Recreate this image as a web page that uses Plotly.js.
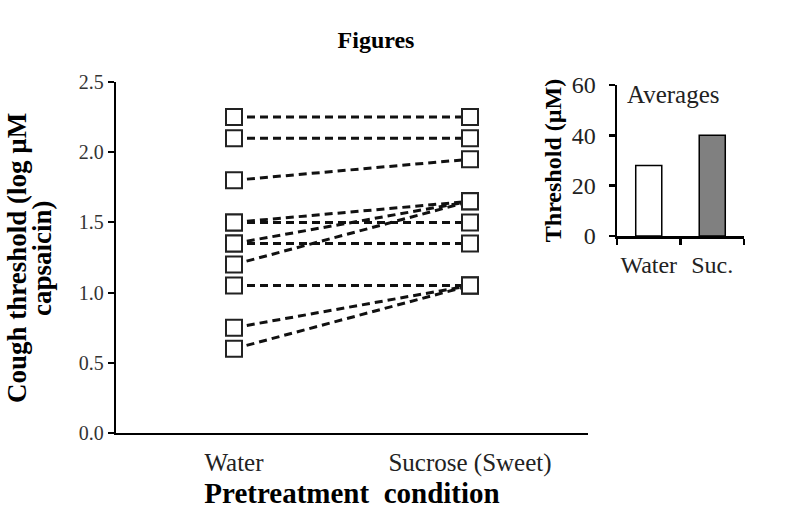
<!DOCTYPE html>
<html>
<head>
<meta charset="utf-8">
<script src="https://cdn.plot.ly/plotly-3.0.1.min.js"></script>
<style>html,body{margin:0;padding:0;background:#fff;}#chart{width:800px;height:510px;}</style>
</head>
<body>
<div id="chart"></div>
<script>
// Data
const conditions = ['Water', 'Sucrose (Sweet)'];
const waterThreshold = [2.25, 2.1, 1.8, 1.5, 1.5, 1.35, 1.35, 1.2, 1.05, 0.75, 0.6];
const sucroseThreshold = [2.25, 2.1, 1.95, 1.65, 1.5, 1.65, 1.35, 1.65, 1.05, 1.05, 1.05];
const avgCategories = ['Water', 'Suc.'];
const avgValues = [28, 40];
const avgColors = ['#ffffff', '#808080'];

const serif = 'Liberation Serif, Times New Roman, serif';
const traces = [];
// dashed lines, one per subject
for (let i = 0; i < waterThreshold.length; i++) {
  traces.push({
    type: 'scatter', mode: 'lines',
    x: conditions, y: [waterThreshold[i], sucroseThreshold[i]],
    xaxis: 'x', yaxis: 'y',
    line: {color: '#111', width: 3, dash: '8px,5px'},
    showlegend: false, hoverinfo: 'skip'
  });
}
// square markers on top of all lines
const markerX = [], markerY = [];
for (let i = 0; i < waterThreshold.length; i++) {
  markerX.push(conditions[0], conditions[1]);
  markerY.push(waterThreshold[i], sucroseThreshold[i]);
}
traces.push({
  type: 'scatter', mode: 'markers', x: markerX, y: markerY, xaxis: 'x', yaxis: 'y',
  marker: {symbol: 'square', size: 16, color: '#ffffff', line: {width: 2, color: '#222'}},
  showlegend: false, hoverinfo: 'x+y'
});
traces.push({
  type: 'bar', x: avgCategories, y: avgValues, xaxis: 'x2', yaxis: 'y2',
  width: 0.41,
  marker: {color: avgColors, line: {color: '#000', width: 1.5}},
  showlegend: false
});

const layout = {
  width: 800, height: 510,
  margin: {l: 0, r: 0, t: 0, b: 0},
  paper_bgcolor: '#fff', plot_bgcolor: '#fff',
  font: {family: serif, color: '#111'},
  title: {text: '<b>Figures</b>', font: {family: serif, size: 24, color: '#000'},
          x: 376/800, xanchor: 'center', xref: 'paper', y: 1 - 40/510, yanchor: 'middle', yref: 'paper'},
  xaxis: {
    domain: [116/800, 588/800], anchor: 'y', type: 'category', range: [-0.5, 1.5],
    showline: true, linecolor: '#000', linewidth: 2.2, ticks: '', showgrid: false, zeroline: false,
    tickfont: {family: serif, size: 25, color: '#222'}, ticklabelstandoff: 6,
    title: {text: '<b>Pretreatment  condition</b>', font: {family: serif, size: 29, color: '#000'}, standoff: 4}
  },
  yaxis: {
    domain: [77/510, 428/510], anchor: 'x', range: [0, 2.5], dtick: 0.5, tickformat: '.1f',
    showline: true, linecolor: '#000', linewidth: 2.2, ticks: 'outside', ticklen: 6, tickwidth: 2, tickcolor: '#000',
    showgrid: false, zeroline: false,
    tickfont: {family: serif, size: 20, color: '#333'}
  },
  xaxis2: {
    domain: [617/800, 744/800], anchor: 'y2', type: 'category', range: [-0.5, 1.5],
    showline: true, linecolor: '#000', linewidth: 2.5, ticks: 'outside', tickson: 'boundaries',
    ticklen: 6, tickwidth: 2.5, tickcolor: '#000', showgrid: false, zeroline: false, tickangle: 0,
    tickfont: {family: serif, size: 24, color: '#222'}, ticklabelstandoff: 6
  },
  yaxis2: {
    domain: [274/510, 425/510], anchor: 'x2', range: [0, 60], dtick: 20,
    showline: true, linecolor: '#000', linewidth: 2.5, ticks: 'outside', ticklen: 6, tickwidth: 2.5, tickcolor: '#000',
    showgrid: false, zeroline: false,
    tickfont: {family: serif, size: 24, color: '#222'}, ticklabelstandoff: 8,
    title: {text: '<b>Threshold (µM)</b>', font: {family: serif, size: 24, color: '#000'}, standoff: 4}
  },
  annotations: [
    {text: 'Averages', xref: 'paper', yref: 'paper', x: 625/800, y: 1 - 94/510,
     xanchor: 'left', yanchor: 'middle', showarrow: false,
     font: {family: serif, size: 25, color: '#222'}},
    {text: '<b>Cough threshold (log µM</b>', xref: 'paper', yref: 'paper', x: 17/800, y: 1 - 258/510,
     xanchor: 'center', yanchor: 'middle', textangle: -90, showarrow: false,
     font: {family: serif, size: 27, color: '#000'}},
    {text: '<b>capsaicin)</b>', xref: 'paper', yref: 'paper', x: 42/800, y: 1 - 258/510,
     xanchor: 'center', yanchor: 'middle', textangle: -90, showarrow: false,
     font: {family: serif, size: 27, color: '#000'}}
  ]
};

Plotly.newPlot('chart', traces, layout, {displayModeBar: false, staticPlot: true});
</script>
</body>
</html>
